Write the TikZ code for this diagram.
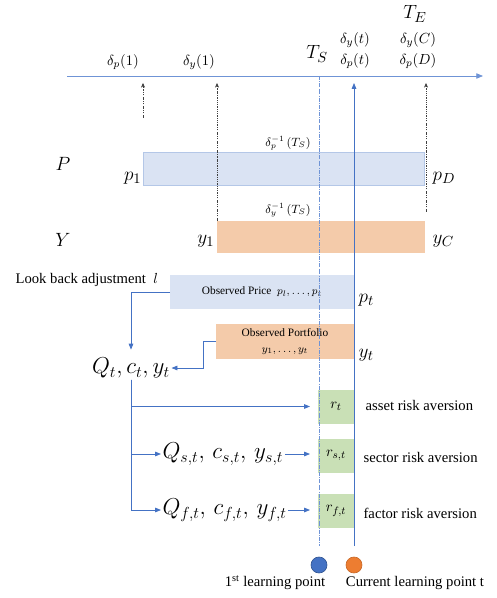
\documentclass[tikz,border=0pt]{standalone}
\usepackage{fontspec}
\setmainfont{Liberation Serif}
\usepackage{amsmath}
\usetikzlibrary{arrows.meta}
\definecolor{lineblue}{HTML}{4472C4}
\definecolor{axisblue}{HTML}{6F94D6}
\definecolor{pricefill}{HTML}{DAE3F3}
\definecolor{priceedge}{HTML}{B4C7E7}
\definecolor{portfill}{HTML}{F4CBAA}
\definecolor{riskfill}{HTML}{C9E0B6}
\definecolor{dotorange}{HTML}{ED7D31}

\begin{document}
\begin{tikzpicture}[x=0.75pt, y=-0.75pt, every node/.style={font=\fontsize{11}{13}\selectfont, inner sep=1pt},
  link/.style={lineblue, line width=0.6pt, -{Triangle[length=4.5pt, width=3.5pt]}},
  dashtick/.style={black!75, line width=0.35pt, dash pattern=on 1.2pt off 0.9pt on 0.4pt off 0.9pt, -{Stealth[length=3.5pt, width=3pt]}},
  barbox/.style={anchor=north west, inner sep=0pt, outer sep=0pt},
  riskbox/.style={fill=riskfill, minimum width=27pt, minimum height=25.5pt, inner sep=0pt, outer sep=0pt},
  bigmath/.style={font=\fontsize{15}{17}\selectfont},
  hugemath/.style={font=\fontsize{17}{19}\selectfont},
  smallmath/.style={font=\fontsize{9}{11}\selectfont},
  boxtext/.style={font=\fontsize{8.5}{10.5}\selectfont}]
  \useasboundingbox (0,0) rectangle (496,598);
  \node[barbox, fill=pricefill, draw=priceedge, minimum width=210.75pt, minimum height=24.75pt] (pbar) at (143,152) {};
  \node[barbox, fill=portfill, minimum width=156pt, minimum height=24pt] (ybar) at (217,221) {};
  \node[barbox, fill=pricefill, minimum width=138pt, minimum height=25.5pt, boxtext] (price) at (170,275) {Observed Price\ \ $p_l,\dots, p_t$};
  \node[barbox, fill=portfill, minimum width=103.5pt, minimum height=26.25pt, boxtext, align=center] (port) at (216,324) {Observed Portfolio\\[1pt] $y_1,\dots,y_t$};
  \node[riskbox] (rt) at (336,406.5) {$r_t$};
  \node[riskbox] (rs) at (336,455.5) {$r_{s,t}$};
  \node[riskbox] (rf) at (336,511) {$r_{f,t}$};
  \node[circle, fill=lineblue, draw=lineblue!75!black, line width=0.5pt, minimum size=12pt, inner sep=0pt] (first) at (319,565) {};
  \node[circle, fill=dotorange, draw=dotorange!85!black, line width=0.5pt, minimum size=12pt, inner sep=0pt] (cur) at (354,565) {};
  \coordinate (axl) at (67,76);
  \coordinate (axr) at (483,76);
  \coordinate (tsax) at (319,76);
  \coordinate (curtip) at (354,83);
  \coordinate (dp1tip) at (143,83);
  \coordinate (dp1foot) at (143,118);
  \coordinate (dy1tip) at (217,83);
  \coordinate (endtip) at (426,83);
  \coordinate (endfoot) at (426,212);
  \draw[axisblue, line width=0.6pt, -{Triangle[length=5pt, width=4pt]}] (axl) -- (axr);
  \draw[axisblue, line width=0.4pt, densely dash dot, shorten >=8pt] (tsax) -- (first.north);
  \draw[link, shorten <=8pt] (cur.north) -- (curtip);
  \draw[dashtick] (dp1foot) -- (dp1tip);
  \draw[dashtick] (ybar.north west) -- (dy1tip);
  \draw[dashtick] (endfoot) -- (endtip);
  \node (lp1) at (123,62) {$\delta_p(1)$};
  \node (ly1) at (199,62) {$\delta_y(1)$};
  \node[bigmath] (ts) at (317,54) {$T_S$};
  \node (lyt) at (355,40) {$\delta_y(t)$};
  \node (lpt) at (355,61) {$\delta_p(t)$};
  \node[bigmath] (te) at (415,14) {$T_E$};
  \node (lyc) at (418,40) {$\delta_y(C)$};
  \node (lpd) at (418,61) {$\delta_p(D)$};
  \node[bigmath] (plab) at (63,164) {$P$};
  \node[bigmath] (ylab) at (63,240) {$Y$};
  \node[bigmath, anchor=east] (p1) at (143,178) {$p_1$};
  \node[bigmath, anchor=west] (pd) at (431,178) {$p_D$};
  \node[bigmath, anchor=east] (y1) at (216,241) {$y_1$};
  \node[bigmath, anchor=west] (yc) at (431,241) {$y_C$};
  \node[smallmath] (dpinv) at (288,143) {$\delta_p^{-1}\,(T_S)$};
  \node[smallmath] (dyinv) at (288,210) {$\delta_y^{-1}\,(T_S)$};
  \node[anchor=west] (lookback) at (14,280) {Look back adjustment\ \ $l$};
  \node[bigmath, anchor=west] (pt) at (357,300) {$p_t$};
  \node[bigmath, anchor=west] (yt) at (357,355) {$y_t$};
  \node[hugemath] (qt) at (131,368) {$Q_t, c_t, y_t$};
  \node[hugemath, anchor=west] (qs) at (161,454) {$Q_{s,t},\, c_{s,t},\, y_{s,t}$};
  \node[hugemath, anchor=west] (qf) at (161,510) {$Q_{f,t},\, c_{f,t},\, y_{f,t}$};
  \draw[link, shorten >=5pt] (price.west) -| (qt.north);
  \draw[link] (port.west) -- ++(-13,0) |- (qt.east);
  \draw[link, shorten >=6pt] (qt.south) |- (rt.west);
  \draw[link] (qt.south) |- (qs.west);
  \draw[link] (qt.south) |- (qf.west);
  \draw[link, shorten >=6pt] (qs.east) -- (qs.east -| rs.west);
  \draw[link, shorten >=6pt] (qf.east) -- (qf.east -| rf.west);
  \node[anchor=west] (asset) at (364,405) {asset risk aversion};
  \node[anchor=west] (sector) at (362,457) {sector risk aversion};
  \node[anchor=west] (factor) at (362,513) {factor risk aversion};
  \node (firstlbl) at (275,583) {1\textsuperscript{st} learning point};
  \node (curlbl) at (415,583) {Current learning point t};
\end{tikzpicture}
\end{document}
